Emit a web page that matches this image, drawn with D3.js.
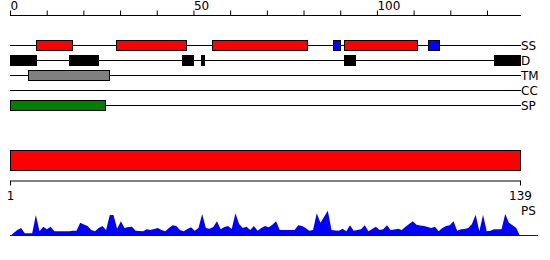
<!DOCTYPE html>
<html>
<head>
<meta charset="utf-8">
<script src="https://cdn.jsdelivr.net/npm/d3@7"></script>
<style>
html,body{margin:0;padding:0;background:#fff;}
svg{display:block;}
text{font-family:"DejaVu Sans",sans-serif;font-size:12px;fill:#000;}
</style>
</head>
<body>
<svg id="chart" width="550" height="260"></svg>
<script>
// ---- data ----
const seqLength = 139;
const topTicks = [0,10,20,30,40,50,60,70,80,90,100,110,120,130];
const topTickLabels = [0,50,100];
const trackNames = ["SS","D","TM","CC","SP"];
const ssStart = [7,29,55,88,91,114];
const ssEnd   = [17,48,81,90,111,117];
const ssType  = ["helix","helix","helix","strand","helix","strand"];
const disorderStart = [0,16,47,52,91,132];
const disorderEnd   = [7,24,50,53,94,139];
const tmStart = [5];
const tmEnd   = [27];
const ccStart = [];
const ccEnd   = [];
const spStart = [0];
const spEnd   = [26];
const bottomTickLabels = [1,139];
const psLabel = "PS";
const psScores = [
 0,0.12,0.24,0.32,0.11,0.11,0.11,0.84,0.19,0.37,
 0.27,0.37,0.19,0.19,0.19,0.19,0.19,0.21,0.21,0.53,
 0.46,0.40,0.24,0.19,0.32,0.40,0.24,0.84,0.84,0.29,
 0.59,0.32,0.36,0.37,0.21,0.20,0.19,0.27,0.24,0.28,
 0.32,0.24,0.19,0.32,0.43,0.40,0.24,0.19,0.28,0.35,
 0.21,0.32,0.88,0.32,0.29,0.36,0.59,0.27,0.36,0.40,
 0.28,0.91,0.48,0.32,0.37,0.24,0.40,0.21,0.32,0.40,
 0.35,0.45,0.59,0.24,0.24,0.24,0.24,0.24,0.43,0.40,
 0.32,0.21,0.24,0.91,0.53,0.77,1.01,0.24,0.22,0.21,
 0.29,0.19,0.43,0.21,0.24,0.27,0.43,0.19,0.28,0.37,
 0.24,0.27,0.43,0.24,0.26,0.29,0.24,0.37,0.48,0.59,
 0.45,0.42,0.40,0.36,0.32,0.37,0.19,0.32,0.40,0.43,
 0.59,0.21,0.27,0.28,0.32,0.48,0.85,0.19,0.85,0.19,
 0.21,0.27,0.27,0.27,0.88,0.53,0.43,0.32,0
];

// ---- layout ----
const svg = d3.select("#chart");
const left = 10, right = 520;
const x = d3.scaleLinear().domain([0, seqLength]).range([left, right]);
const xRes = d3.scaleLinear().domain([1, seqLength]).range([left, right]);
const trackY = d3.scalePoint().domain(trackNames).range([45, 105]);
const colors = {helix:"#ff0000", strand:"#0000ff", disorder:"#000000", tm:"#808080", cc:"#ffff00", sp:"#008000"};

// top axis
const topAxis = d3.axisTop(x).tickValues(topTicks).tickSize(5).tickFormat(d => topTickLabels.includes(d) ? d : "");
const gTop = svg.append("g").attr("transform","translate(0,15.5)").call(topAxis);
gTop.select(".domain").attr("d", `M${left},0H${right+1}`).attr("stroke","#000");
gTop.selectAll(".tick line").attr("stroke","#000");
gTop.selectAll(".tick text").attr("text-anchor","start").attr("y",-5.5).attr("dy",0)
  .style("font-family","DejaVu Sans").style("font-size","12px").attr("fill","#000");

// tracks
const featureSets = {
  SS: ssStart.map((s,i)=>({start:s,end:ssEnd[i],color:colors[ssType[i]]})),
  D: disorderStart.map((s,i)=>({start:s,end:disorderEnd[i],color:colors.disorder})),
  TM: tmStart.map((s,i)=>({start:s,end:tmEnd[i],color:colors.tm})),
  CC: ccStart.map((s,i)=>({start:s,end:ccEnd[i],color:colors.cc})),
  SP: spStart.map((s,i)=>({start:s,end:spEnd[i],color:colors.sp}))
};
trackNames.forEach(name => {
  const y = trackY(name);
  const g = svg.append("g");
  g.append("line").attr("x1",left).attr("x2",right+1).attr("y1",y+0.5).attr("y2",y+0.5)
    .attr("stroke","#000").attr("stroke-width",1);
  g.selectAll("rect").data(featureSets[name]).join("rect")
    .attr("x",d=>Math.round(x(d.start))+0.5).attr("y",y-4.5)
    .attr("width",d=>Math.round(x(d.end))-Math.round(x(d.start)))
    .attr("height",10)
    .attr("fill",d=>d.color).attr("stroke","#000").attr("stroke-width",1);
  g.append("text").attr("x",right+1).attr("y",y+5).text(name);
});

// full-length red bar
svg.append("rect").attr("x",xRes(1)+0.5).attr("y",150.5)
  .attr("width",xRes(seqLength)-xRes(1)).attr("height",20)
  .attr("fill","#ff0000").attr("stroke","#000").attr("stroke-width",1);

// bottom axis
const bottomAxis = d3.axisBottom(xRes).tickValues(bottomTickLabels).tickSize(5).tickSizeOuter(0);
const gBot = svg.append("g").attr("transform","translate(0,180.5)").call(bottomAxis);
gBot.select(".domain").attr("stroke","#000");
gBot.selectAll(".tick line").attr("stroke","#000");
gBot.selectAll(".tick text").attr("y",19).attr("dy",0)
  .style("font-family","DejaVu Sans").style("font-size","12px").attr("fill","#000");

// PS area
const yPs = d3.scaleLinear().domain([0,1]).range([236,211]);
const area = d3.area().x((d,i)=>xRes(i+1)).y0(236).y1(d=>yPs(d));
svg.append("path").datum(psScores).attr("d",area).attr("fill","#0000ff");
svg.append("line").attr("x1",left).attr("x2",538).attr("y1",235.5).attr("y2",235.5)
  .attr("stroke","#0000ff").attr("stroke-width",1);
svg.append("text").attr("x",right+1).attr("y",215).text(psLabel);
</script>
</body>
</html>
